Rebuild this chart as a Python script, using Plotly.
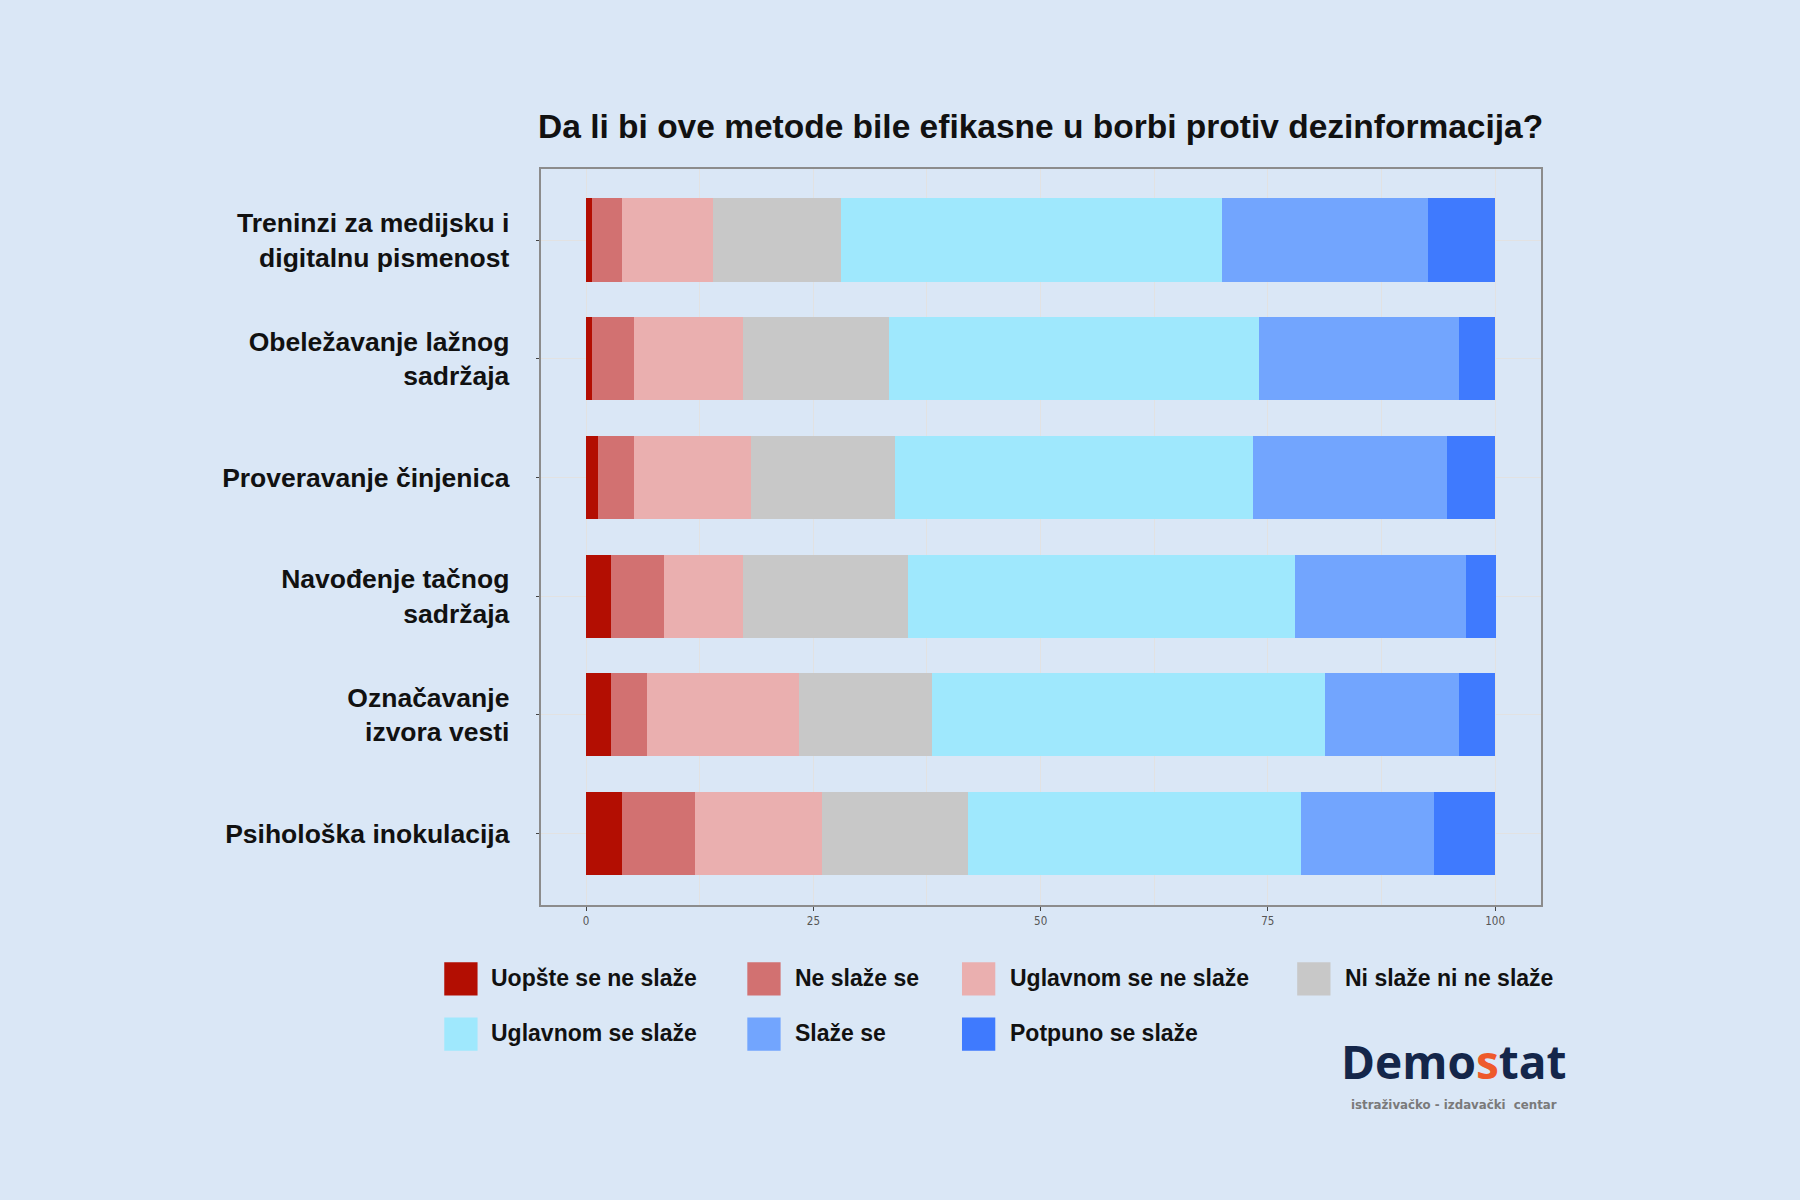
import plotly.graph_objects as go

categories = [
    "Treninzi za medijsku i<br>digitalnu pismenost",
    "Obeležavanje lažnog<br>sadržaja",
    "Proveravanje činjenica",
    "Navođenje tačnog<br>sadržaja",
    "Označavanje<br>izvora vesti",
    "Psihološka inokulacija",
]

series_names = [
    "Uopšte se ne slaže",
    "Ne slaže se",
    "Uglavnom se ne slaže",
    "Ni slaže ni ne slaže",
    "Uglavnom se slaže",
    "Slaže se",
    "Potpuno se slaže",
]

uopste = [0.6, 0.6, 1.3, 2.7, 2.7, 4.0]
ne_slaze = [3.4, 4.7, 4.0, 5.9, 4.0, 8.0]
uglavnom_ne = [10.0, 12.0, 12.8, 8.7, 16.7, 14.0]
ni_ni = [14.0, 16.0, 15.9, 18.1, 14.6, 16.0]
uglavnom_da = [42.0, 40.7, 39.4, 42.6, 43.3, 36.7]
slaze = [22.6, 22.0, 21.3, 18.8, 14.7, 14.6]
potpuno = [7.4, 4.0, 5.3, 3.3, 4.0, 6.7]

series_values = [uopste, ne_slaze, uglavnom_ne, ni_ni, uglavnom_da, slaze, potpuno]
colors = ["#B30E02", "#D27171", "#EAAFAF", "#C8C8C8", "#9FE8FD", "#72A5FE", "#3F7AFE"]

x_ticks = [0, 25, 50, 75, 100]

BG = "#DAE7F6"
W, H = 1568.0, 1045.0  # reference layout units


def px(x):
    return x / W


def py(y):
    return 1 - y / H


fig = go.Figure()
for name, vals, col in zip(series_names, series_values, colors):
    fig.add_trace(go.Bar(
        x=vals, y=categories, name=name, orientation="h",
        marker=dict(color=col, line=dict(width=0)),
        width=0.7, showlegend=False, hoverinfo="skip",
    ))

fig.update_layout(
    width=1800, height=1200,
    barmode="stack",
    paper_bgcolor=BG, plot_bgcolor=BG,
    margin=dict(l=0, r=0, t=0, b=0),
    font=dict(family="Liberation Sans, Arial, sans-serif", color="#111111"),
)

fig.update_xaxes(
    domain=[px(471), px(1342)],
    range=[-5, 105],
    tickvals=x_ticks,
    ticktext=[str(v) for v in x_ticks],
    tickfont=dict(size=11.5, color="#555555", family="DejaVu Sans Condensed, Liberation Sans Narrow, sans-serif"),
    ticks="outside", ticklen=4, tickcolor="#444444", tickwidth=1,
    showgrid=True, gridcolor="#E2E2E2", gridwidth=1,
    minor=dict(dtick=12.5, tick0=0, showgrid=True, gridcolor="#E2E2E2", gridwidth=1),
    showline=True, linecolor="#8C8C8C", linewidth=2, mirror=True,
    zeroline=False,
)

fig.update_yaxes(
    domain=[py(788), py(147)],
    categoryorder="array",
    categoryarray=categories[::-1],
    range=[-0.6, 5.6],
    tickfont=dict(size=26.5, color="#111111", family="Liberation Sans, Arial, sans-serif", weight="bold"),
    ticks="outside", ticklen=3, tickcolor="#444444", tickwidth=1,
    ticklabelstandoff=21,
    showgrid=True, gridcolor="#E2E2E2", gridwidth=1,
    showline=True, linecolor="#8C8C8C", linewidth=2, mirror=True,
    zeroline=False,
)

# Title
fig.add_annotation(
    text="<b>Da li bi ove metode bile efikasne u borbi protiv dezinformacija?</b>",
    x=px(906), y=py(110), xref="paper", yref="paper",
    xanchor="center", yanchor="middle", showarrow=False,
    font=dict(size=33.5, color="#111111", family="Liberation Sans, Arial, sans-serif"),
)

# Custom legend (grid of 4 columns)
col_sq_x = [387, 651, 838, 1130]
col_tx_x = [426, 691, 878, 1170]
row_sq_y = [838, 886]
sq = 29
for i, (name, col) in enumerate(zip(series_names, colors)):
    r, c = divmod(i, 4)
    x0 = col_sq_x[c]
    y0 = row_sq_y[r]
    fig.add_shape(
        type="rect", xref="paper", yref="paper",
        x0=px(x0), x1=px(x0 + sq), y0=py(y0 + sq), y1=py(y0),
        fillcolor=col, line=dict(width=0),
    )
    fig.add_annotation(
        text="<b>" + name + "</b>",
        x=px(col_tx_x[c]), y=py(y0 + sq / 2 - 1), xref="paper", yref="paper",
        xanchor="left", yanchor="middle", showarrow=False,
        font=dict(size=23, color="#111111", family="Liberation Sans, Arial, sans-serif"),
    )

# Logo
fig.add_annotation(
    text="<span style='color:#14264A'>Demo</span><span style='color:#EE5A2B'>s</span><span style='color:#14264A'>tat</span>",
    x=px(1267), y=py(953), xref="paper", yref="paper",
    xanchor="center", yanchor="bottom", showarrow=False,
    font=dict(size=46, family="Open Sans, DejaVu Sans, sans-serif", weight=700),
)
fig.add_annotation(
    text="<b>istraživačko - izdavački  centar</b>",
    x=px(1267), y=py(954), xref="paper", yref="paper",
    xanchor="center", yanchor="top", showarrow=False,
    font=dict(size=11.8, color="#7A7A7A", family="DejaVu Sans, sans-serif"),
)

fig.write_html(
    "out.html",
    config={"displayModeBar": False},
    post_script="document.body.style.margin='0';",
)
